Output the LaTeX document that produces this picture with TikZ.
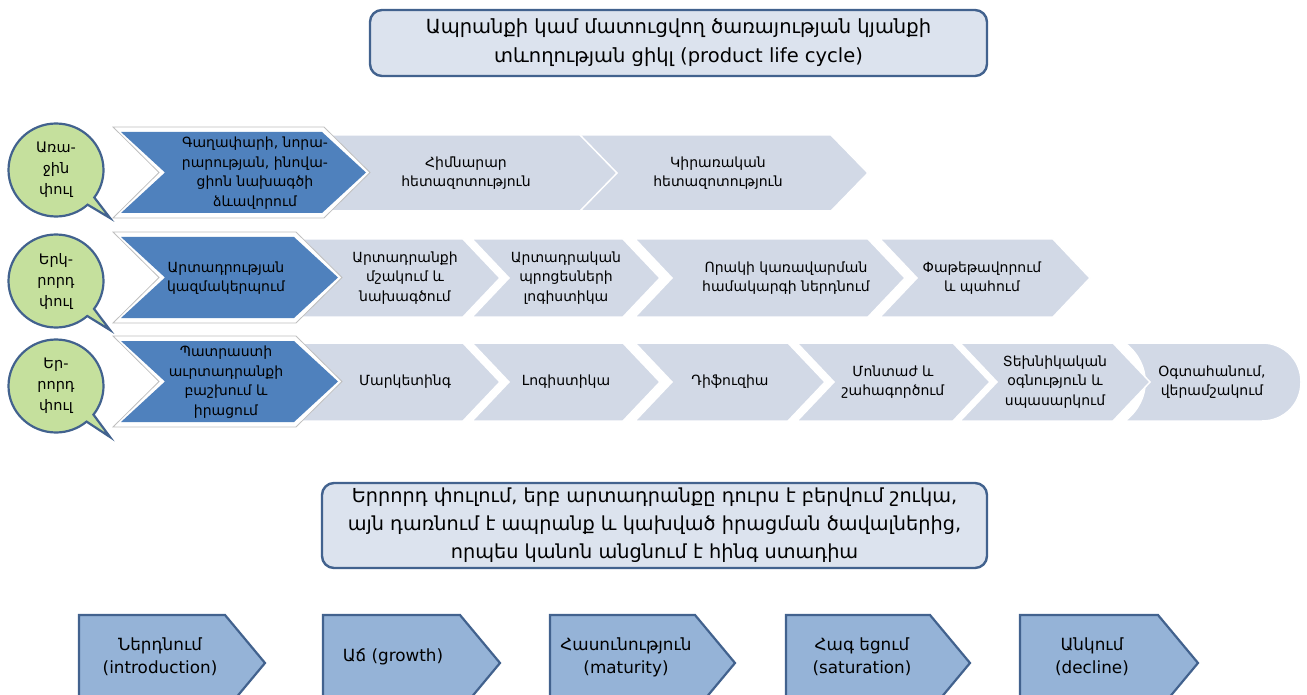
\documentclass[tikz,border=0pt]{standalone}
\usepackage{fontspec}
\setmainfont{DejaVu Sans}
\usetikzlibrary{shapes.callouts}
\definecolor{boxfill}{HTML}{DCE3EE}
\definecolor{boxline}{HTML}{42628E}
\definecolor{darkchev}{HTML}{4F81BD}
\definecolor{lightchev}{HTML}{D2D9E6}
\definecolor{bubfill}{HTML}{C5E09D}
\definecolor{stagefill}{HTML}{95B3D7}
\newcommand{\chevshape}[6]{\path[#1] (#2,#4) -- ({#3-#6},#4) -- (#3,{(#4+#5)/2}) -- ({#3-#6},#5) -- (#2,#5) -- ({#2+#6},{(#4+#5)/2}) -- cycle;}
\newcommand{\darkshape}[4]{%
  \chevshape{fill=white,draw=black!25,line width=0.8pt}{#1}{#2}{#3}{#4}{46}
  \chevshape{fill=darkchev}{#1+8}{#2-4}{#3+5}{#4-5}{44}}
\newcommand{\stageshape}[2]{\path[stage] (#1,615) -- ({#2-40},615) -- (#2,663) -- ({#2-40},711) -- (#1,711) -- cycle;}
\begin{document}
\begin{tikzpicture}[x=1pt,y=-1pt,
  light/.style={fill=lightchev,draw=white,line width=1.5pt},
  stage/.style={fill=stagefill,draw=boxline,line width=2.2pt,line join=miter},
  ctext/.style={align=center,inner sep=0pt,font=\fontsize{14}{19.5}\selectfont},
  bubble/.style={ellipse callout,fill=bubfill,draw=boxline,line width=2.2pt,minimum width=95pt,minimum height=93pt,inner sep=0pt,align=center,font=\fontsize{14.5}{21}\selectfont,callout pointer arc=12},
  bigbox/.style={rounded corners=12pt,fill=boxfill,draw=boxline,line width=2.4pt,align=center,inner sep=0pt},
  stext/.style={align=center,inner sep=0pt,font=\fontsize{16.8}{23}\selectfont}]
\useasboundingbox (0,0) rectangle (1307,695);
\clip (0,0) rectangle (1307,695);

% title
\node[bigbox,minimum width=617pt,minimum height=66pt,font=\fontsize{19.5}{29}\selectfont] (title) at (678.5,43)
  {Ապրանքի կամ մատուցվող ծառայության կյանքի\\տևողության ցիկլ  (product life cycle)};

% row 1
\chevshape{light}{568}{868}{135}{211}{37}
\chevshape{light}{300}{617}{135}{211}{37}
\darkshape{113}{370}{127}{218}
\node[ctext] (r1a) at (255,173) {Գաղափարի, նորա-\\րարության, ինովա-\\ցիոն նախագծի\\ձևավորում};
\node[ctext] (r1b) at (466,173) {Հիմնարար\\հետազոտություն};
\node[ctext] (r1c) at (718,173) {Կիրառական\\հետազոտություն};

% row 2
\chevshape{light}{880}{1090}{239}{317}{37}
\chevshape{light}{635}{905}{239}{317}{37}
\chevshape{light}{472}{660}{239}{317}{37}
\chevshape{light}{300}{500}{239}{317}{37}
\darkshape{113}{342}{232}{323}
\node[ctext] (r2a) at (226,278) {Արտադրության\\կազմակերպում};
\node[ctext] (r2b) at (405,278) {Արտադրանքի\\մշակում և\\նախագծում};
\node[ctext] (r2c) at (566,278) {Արտադրական\\պրոցեսների\\լոգիստիկա};
\node[ctext] (r2d) at (786,278) {Որակի կառավարման\\համակարգի ներդնում};
\node[ctext] (r2e) at (982,278) {Փաթեթավորում\\և պահում};

% row 3
\path[light] (1125,343) -- (1262,343) .. controls (1284,343) and (1301,360) .. (1301,382)
  .. controls (1301,404) and (1284,421) .. (1262,421) -- (1125,421)
  .. controls (1152,400) and (1152,364) .. (1125,343) -- cycle;
\chevshape{light}{960}{1150}{343}{421}{37}
\chevshape{light}{797}{990}{343}{421}{37}
\chevshape{light}{635}{825}{343}{421}{37}
\chevshape{light}{472}{660}{343}{421}{37}
\chevshape{light}{300}{500}{343}{421}{37}
\darkshape{113}{342}{336}{427}
\node[ctext] (r3a) at (226,382) {Պատրաստի\\աւրտադրանքի\\բաշխում և\\իրացում};
\node[ctext] (r3b) at (405,382) {Մարկետինգ};
\node[ctext] (r3c) at (566,382) {Լոգիստիկա};
\node[ctext] (r3d) at (730,382) {Դիֆուզիա};
\node[ctext] (r3e) at (893,382) {Մոնտաժ և\\շահագործում};
\node[ctext] (r3f) at (1055,382) {Տեխնիկական\\օգնություն և\\սպասարկում};
\node[ctext] (r3g) at (1212,382) {Օգտահանում,\\վերամշակում};

% bubbles
\node[bubble,callout absolute pointer={(110,218)}] (b1) at (56,170) {Առա-\\ջին\\փուլ};
\node[bubble,callout absolute pointer={(110,330)}] (b2) at (56,281) {Երկ-\\րորդ\\փուլ};
\node[bubble,callout absolute pointer={(110,437)}] (b3) at (56,386) {Եր-\\րորդ\\փուլ};

% middle box
\node[bigbox,minimum width=665pt,minimum height=85pt,font=\fontsize{19.3}{28}\selectfont] (mid) at (654.5,525.5)
  {Երրորդ փուլում, երբ արտադրանքը դուրս է բերվում շուկա,\\այն դառնում է ապրանք և կախված իրացման ծավալներից,\\որպես կանոն անցնում է հինգ ստադիա};

% stages
\stageshape{79}{265}
\stageshape{323}{500}
\stageshape{550}{735}
\stageshape{786}{970}
\stageshape{1020}{1198}
\node[stext] (s1) at (160,657) {Ներդնում\\(introduction)};
\node[stext] (s2) at (393,657) {Աճ (growth)};
\node[stext] (s3) at (626,657) {Հասունություն\\(maturity)};
\node[stext] (s4) at (862,657) {Հագ եցում\\(saturation)};
\node[stext] (s5) at (1092,657) {Անկում\\(decline)};
\end{tikzpicture}
\end{document}
